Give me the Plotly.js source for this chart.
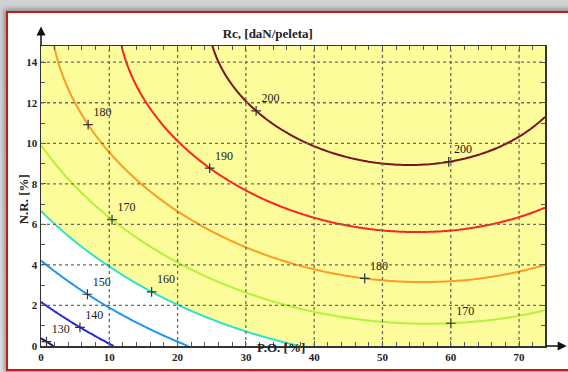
<!DOCTYPE html>
<html>
<head>
<meta charset="utf-8">
<script src="https://cdn.plot.ly/plotly-3.0.1.min.js"></script>
<style>
  html, body { margin: 0; padding: 0; width: 568px; height: 372px; overflow: hidden;
    background: linear-gradient(#d2d2d2, #e4e4e4); }
  #frame { position: absolute; left: 6px; top: 11px; width: 590px; height: 356px;
    border: 2px solid #c41a1a; background: #ffffff;
    box-shadow: 0 0 5px 2px rgba(0,0,0,0.35); }
  #chart { position: absolute; left: 0; top: 0; width: 568px; height: 372px; }
</style>
</head>
<body>
<div id="frame"></div>
<div id="chart"></div>
<script>
// Response surface Rc(PO, NR) = a + b*PO + c*NR + d*PO^2 + e*NR^2 + g*PO*NR
const coef = [127.7, 1.276, 6.05, -0.0112, -0.18, -0.0075];

// Iso-lines of Rc [daN/peleta]
const levels = [130, 140, 150, 160, 170, 180, 190, 200];
const levelColors = ['#16166e', '#2626d4', '#2196f0', '#2ee0d2', '#b4f03c', '#ff9a22', '#ff2222', '#7c1222'];

// Labelled points on the iso-lines (level and P.O. position)
const labelLevels = [130, 140, 150, 160, 170, 170, 180, 180, 190, 200, 200];
const labelPO     = [0.8, 5.7, 6.8, 16.2, 10.4, 60, 6.9, 47.4, 24.7, 31.5, 59.7];

// Axis extents and grid ticks
const poRange = [0, 73.8];
const nrRange = [0, 14.8];
const poGrid = [10, 20, 30, 40, 50, 60, 70];
const nrGrid = [2, 4, 6, 8, 10, 12, 14];
const fillThreshold = 160;

const [a, b, c, d, e, g] = coef;
const rc = (x, y) => a + b*x + c*y + d*x*x + e*y*y + g*x*y;

// Sample the surface on a fine mesh over the plotting window
const xs = [], ys = [];
for (let i = 0; i <= 200; i++) xs.push(poRange[0] + (poRange[1] - poRange[0]) * i / 200);
for (let j = 0; j <= 120; j++) ys.push(nrRange[0] + (nrRange[1] - nrRange[0]) * j / 120);
const zs = ys.map(y => xs.map(x => rc(x, y)));

// N.R. value where a level is reached at a given P.O. (lower root of the quadratic in NR)
function nrAt(x, L) {
  const B = c + g*x, C = a + b*x + d*x*x - L;
  return (-B + Math.sqrt(B*B - 4*e*C)) / (2*e);
}

const serif = '"Liberation Serif", "Times New Roman", serif';
const traces = [];

// Shade the region where Rc reaches the threshold (the '<' side is left unshaded)
traces.push({
  type: 'contour', x: xs, y: ys, z: zs, showscale: false, hoverinfo: 'skip',
  contours: { type: 'constraint', operation: '<', value: fillThreshold, showlines: false },
  fillcolor: '#fcfc9a', line: { width: 0 }
});

levels.forEach((L, k) => {
  traces.push({
    type: 'contour', x: xs, y: ys, z: zs, showscale: false, hoverinfo: 'skip',
    autocontour: false,
    contours: { start: L, end: L, size: 1, coloring: 'none', showlines: true },
    line: { color: levelColors[k], width: 2, smoothing: 1 }
  });
});

traces.push({
  type: 'scatter', mode: 'markers+text', hoverinfo: 'skip',
  x: labelPO, y: labelPO.map((x, i) => nrAt(x, labelLevels[i])),
  text: labelLevels.map(String), textposition: 'top right',
  textfont: { family: serif, size: 12, color: '#1a1a1a' },
  marker: { symbol: 'cross-thin', size: 7, line: { width: 1.2, color: '#333' } }
});

const gridShapes = [];
poGrid.forEach(v => gridShapes.push({ type: 'line', xref: 'x', yref: 'paper', x0: v, x1: v, y0: 0, y1: 1,
  line: { color: '#6a6a6a', width: 1.3, dash: 'dot' }, layer: 'above' }));
nrGrid.forEach(v => gridShapes.push({ type: 'line', xref: 'paper', yref: 'y', x0: 0, x1: 1, y0: v, y1: v,
  line: { color: '#6a6a6a', width: 1.3, dash: 'dot' }, layer: 'above' }));

const axisCommon = {
  showgrid: false, zeroline: false, showline: true, linecolor: '#333', linewidth: 1.5,
  mirror: 'ticks', ticks: 'inside', ticklen: 5, tickcolor: '#555', tickwidth: 1,
  tickfont: { family: serif, size: 11, weight: 'bold', color: '#222' }
};

const layout = {
  width: 568, height: 372,
  margin: { l: 41, r: 23, t: 46, b: 26 },
  paper_bgcolor: 'rgba(0,0,0,0)', plot_bgcolor: '#ffffff',
  showlegend: false,
  title: { text: 'Rc, [daN/peleta]', font: { family: serif, size: 13, weight: 'bold', color: '#222' },
    x: 0.45, xref: 'paper', xanchor: 'center', y: 1 - 33/372, yref: 'container', yanchor: 'middle' },
  xaxis: Object.assign({}, axisCommon, { range: poRange, tick0: 0, dtick: 10,
    minor: { dtick: 2, ticks: 'inside', ticklen: 4, tickcolor: '#555', showgrid: false } }),
  yaxis: Object.assign({}, axisCommon, { range: nrRange, tick0: 0, dtick: 2,
    minor: { dtick: 1, ticks: 'inside', ticklen: 4, tickcolor: '#555', showgrid: false } }),
  shapes: gridShapes,
  annotations: [
    { text: 'P.O. [%]', xref: 'x', yref: 'paper', x: 35.1, y: -0.037, showarrow: false,
      font: { family: serif, size: 13, weight: 'bold', color: '#222' } },
    { text: 'N.R. [%]', xref: 'paper', yref: 'paper', x: -0.054, y: 0.49, textangle: -90, showarrow: false,
      font: { family: serif, size: 13, weight: 'bold', color: '#222' } },
    { text: '', xref: 'x', yref: 'paper', x: 0, y: 1.065, ax: 0, ay: 21, showarrow: true,
      arrowhead: 2, arrowsize: 1.2, arrowwidth: 1.5, arrowcolor: '#111' },
    { text: '', xref: 'paper', yref: 'paper', x: 1.043, y: 0, ax: -22, ay: 0, showarrow: true,
      arrowhead: 2, arrowsize: 1.2, arrowwidth: 1.5, arrowcolor: '#111' }
  ]
};

Plotly.newPlot('chart', traces, layout, { displayModeBar: false, staticPlot: true });
</script>
</body>
</html>
